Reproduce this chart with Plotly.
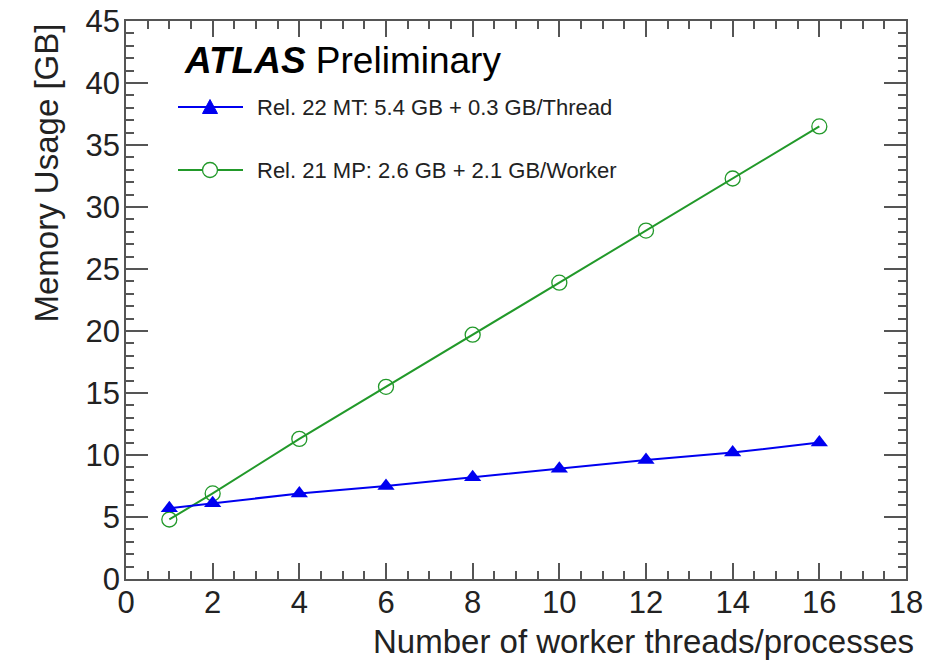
import plotly.graph_objects as go

# Memory usage vs. number of workers
n_workers = [1, 2, 4, 6, 8, 10, 12, 14, 16]
mem_mt = [5.7, 6.1, 6.9, 7.5, 8.2, 8.9, 9.6, 10.2, 11.0]      # Rel. 22 multi-threaded
mem_mp = [4.8, 6.9, 11.3, 15.5, 19.7, 23.9, 28.1, 32.3, 36.5]  # Rel. 21 multi-process

label_mt = "Rel. 22 MT: 5.4 GB + 0.3 GB/Thread"
label_mp = "Rel. 21 MP: 2.6 GB + 2.1 GB/Worker"
x_ticks = list(range(0, 19, 2))
y_ticks = list(range(0, 46, 5))

BLUE = "#0000f0"
GREEN = "#22992a"
TXT = "#222222"
AX = "#555555"
FONT = "Liberation Sans, Arial, sans-serif"

W, H = 944, 662
L, R, T, B = 126, 38, 21, 83
PW, PH = W - L - R, H - T - B


def fx(px):
    return (px - L) / PW


def fy(py):
    return (H - B - py) / PH


fig = go.Figure()
fig.add_trace(go.Scatter(
    x=n_workers, y=mem_mp, mode="lines+markers", name=label_mp,
    line=dict(color=GREEN, width=2),
    marker=dict(symbol="circle-open", size=15, color=GREEN, line=dict(width=1.3)),
))
fig.add_trace(go.Scatter(
    x=n_workers, y=mem_mt, mode="lines+markers", name=label_mt,
    line=dict(color=BLUE, width=2),
    marker=dict(symbol="triangle-up", size=15, color=BLUE),
))

axis_common = dict(
    showgrid=False, zeroline=False, showline=True, linecolor=AX, linewidth=1.5,
    mirror="ticks", ticks="inside", tickcolor=AX, tickwidth=1.5, automargin=False,
    tickfont=dict(family=FONT, size=31, color=TXT),
)
fig.update_xaxes(
    range=[0, 18], tickvals=x_ticks, ticklen=16,
    minor=dict(dtick=0.5, ticks="inside", ticklen=8, tickcolor=AX, tickwidth=1.5),
    ticklabelstandoff=-5, **axis_common,
)
fig.update_yaxes(
    range=[0, 45], tickvals=y_ticks, ticklen=22,
    minor=dict(dtick=1, ticks="inside", ticklen=8, tickcolor=AX, tickwidth=1.5),
    ticklabelstandoff=-2, **axis_common,
)

# Legend drawn as shapes and text in the upper-left corner
shapes = []
annotations = []
rows = [(107, BLUE, "tri", label_mt), (170, GREEN, "circ", label_mp)]
for py, col, kind, lab in rows:
    y0 = fy(py)
    shapes.append(dict(type="line", xref="paper", yref="paper",
                       x0=fx(178), x1=fx(243), y0=y0, y1=y0,
                       line=dict(color=col, width=2)))
    cx = 210
    if kind == "tri":
        path = (f"M {fx(cx - 7.5)} {fy(py + 6.5)} L {fx(cx + 7.5)} {fy(py + 6.5)} "
                f"L {fx(cx)} {fy(py - 7.5)} Z")
        shapes.append(dict(type="path", xref="paper", yref="paper", path=path,
                           fillcolor=col, line=dict(color=col, width=1)))
    else:
        shapes.append(dict(type="circle", xref="paper", yref="paper",
                           x0=fx(cx - 7.5), x1=fx(cx + 7.5),
                           y0=fy(py + 7.5), y1=fy(py - 7.5),
                           fillcolor="white", line=dict(color=col, width=1.3)))
    annotations.append(dict(xref="paper", yref="paper", x=fx(255), y=y0,
                            xanchor="left", yanchor="middle", showarrow=False,
                            text=lab, font=dict(family=FONT, size=22, color=TXT)))

annotations.append(dict(xref="paper", yref="paper", x=fx(182), y=fy(60),
                        xanchor="left", yanchor="middle", showarrow=False,
                        text="<b><i>ATLAS</i></b> Preliminary",
                        font=dict(family=FONT, size=37, color="black")))
annotations.append(dict(xref="paper", yref="paper", x=fx(916), y=fy(641),
                        xanchor="right", yanchor="middle", showarrow=False,
                        text="Number of worker threads/processes",
                        font=dict(family=FONT, size=33, color=TXT)))
annotations.append(dict(xref="paper", yref="paper", x=fx(46), y=fy(22),
                        xanchor="center", yanchor="top", showarrow=False,
                        textangle=-90, text="Memory Usage [GB]",
                        font=dict(family=FONT, size=33, color=TXT)))

fig.update_layout(
    width=W, height=H, margin=dict(l=L, r=R, t=T, b=B, autoexpand=False),
    paper_bgcolor="white", plot_bgcolor="white", showlegend=False,
    shapes=shapes, annotations=annotations,
)

fig.write_html("out.html")
